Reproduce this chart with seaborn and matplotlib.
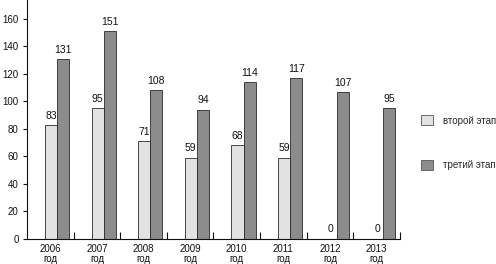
import pandas as pd
import matplotlib.pyplot as plt
import seaborn as sns

# values
years = ['2006\nгод', '2007\nгод', '2008\nгод', '2009\nгод',
         '2010\nгод', '2011\nгод', '2012\nгод', '2013\nгод']
second_stage = [83, 95, 71, 59, 68, 59, 0, 0]
third_stage = [131, 151, 108, 94, 114, 117, 107, 95]
stage_names = ['второй этап', 'третий этап']

data = pd.DataFrame({
    'year': years * 2,
    'value': second_stage + third_stage,
    'stage': [stage_names[0]] * len(years) + [stage_names[1]] * len(years),
})

sns.set_style('ticks')
plt.rcParams['font.family'] = ['Liberation Sans', 'DejaVu Sans']

fig = plt.figure(figsize=(4.96, 2.64), dpi=100)
ax = fig.add_axes([0.0544, 0.096, 0.752, 0.904])

sns.barplot(data=data, x='year', y='value', hue='stage',
            palette=['#e2e2e2', '#8c8c8c'], width=0.52, dodge=True,
            edgecolor='#2a2a2a', linewidth=0.6, legend=False, ax=ax)

# the bar pairs sit right of the group centre in the original
for patch in ax.patches:
    patch.set_x(patch.get_x() + 0.144)

for cont in ax.containers:
    ax.bar_label(cont, fontsize=7.5, padding=3, color='#111111')

ax.set_xlim(-0.5, 7.5)
ax.set_ylim(0, 173.8)
ax.set_yticks(range(0, 161, 20))
ax.set_xlabel('')
ax.set_ylabel('')
ax.tick_params(axis='y', labelsize=7, length=3, width=0.8, pad=3, colors='#111111')
ax.tick_params(axis='x', labelsize=7, length=0, pad=4, colors='#111111')
for lbl in ax.get_xticklabels():
    lbl.set_linespacing(0.95)
ax.set_xticks([i + 0.5 for i in range(8)], minor=True)
ax.tick_params(axis='x', which='minor', direction='in', length=5, width=0.8, color='#111111')

sns.despine(ax=ax, top=True, right=True)
ax.spines['left'].set_color('#111111')
ax.spines['bottom'].set_color('#111111')

handles = [plt.Rectangle((0, 0), 1, 1, facecolor='#e2e2e2', edgecolor='#555555', linewidth=0.6),
           plt.Rectangle((0, 0), 1, 1, facecolor='#8c8c8c', edgecolor='#555555', linewidth=0.6)]
fig.legend(handles, stage_names, loc='center left', bbox_to_anchor=(0.84, 0.46),
           frameon=False, fontsize=7, handlelength=1.3, handleheight=1.2,
           labelspacing=3.5, handletextpad=1.0, borderaxespad=0)

fig.savefig('out.png', dpi=100)
